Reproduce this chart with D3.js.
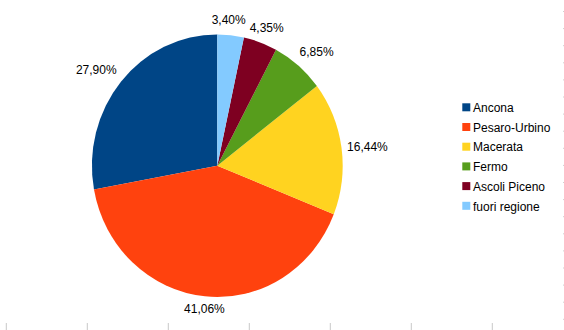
<!DOCTYPE html>
<html>
<head>
<meta charset="utf-8">
<script src="https://cdn.jsdelivr.net/npm/d3@7"></script>
<style>
html,body{margin:0;padding:0;background:#fff;}
svg{display:block;font-family:"Liberation Sans",Arial,sans-serif;}
</style>
</head>
<body>
<svg id="chart" width="564" height="330"></svg>
<script>
const categories = ["Ancona", "Pesaro-Urbino", "Macerata", "Fermo", "Ascoli Piceno", "fuori regione"];
const values = [27.90, 41.06, 16.44, 6.85, 4.35, 3.40];
const colors = ["#004586", "#ff420e", "#ffd320", "#579d1c", "#7e0021", "#83caff"];

const svg = d3.select("#chart");
const cx = 217.3, cy = 165.7, r = 125.4, k = 1.047;

// decorative frame: bottom ticks and right dotted edge
const tickX = d3.scaleLinear().domain([0, 1]).range([6.3, 87.3]);
svg.append("g").selectAll("line").data(d3.range(0, 7)).join("line")
  .attr("x1", d => tickX(d)).attr("x2", d => tickX(d))
  .attr("y1", 323).attr("y2", 330)
  .attr("stroke", "#c8c8c8").attr("stroke-width", 1);
svg.append("line").attr("x1", 563.5).attr("x2", 563.5).attr("y1", 11).attr("y2", 330)
  .attr("stroke", "#d0d0d0").attr("stroke-width", 1).attr("stroke-dasharray", "1,16.1");

const pie = d3.pie().sort(null).startAngle(0).endAngle(-2 * Math.PI).value(d => d);
const arcs = pie(values);
const arc = d3.arc().innerRadius(0).outerRadius(r);

const g = svg.append("g").attr("transform", `translate(${cx},${cy}) scale(1,${k})`);
g.selectAll("path").data(arcs).join("path")
  .attr("d", arc)
  .attr("fill", (d, i) => colors[i]);

const fmtLocale = d3.formatLocale({decimal: ",", thousands: ".", grouping: [3], currency: ["", "€"]});
const fmt = fmtLocale.format(".2f");

const lblG = svg.append("g").attr("font-size", 12).attr("fill", "#000");
const clamp = v => Math.max(0, Math.min(1, v));
const labelData = arcs.map((a, i) => {
  const th = (a.startAngle + a.endAngle) / 2;
  const s = Math.sin(th), c = Math.cos(th);
  const ax = cx + (r + 5.6) * s;
  const ay = cy - (r + 5.6) * c * k;
  return {i, s, c, ax, ay, text: fmt(values[i]) + "%"};
});
const texts = lblG.selectAll("text").data(labelData).join("text")
  .attr("text-anchor", "middle")
  .text(d => d.text);
texts.each(function(d) {
  const w = this.getComputedTextLength();
  d.w = w;
  const tx = clamp((Math.abs(d.s) - 0.3) / 0.4);
  const ty = clamp((Math.abs(d.c) - 0.3) / 0.4);
  d.x = d.ax + Math.sign(d.s) * tx * w / 2;
  d.y = d.ay + 4 + (d.c > 0 ? -9 : 7) * ty;
});
// simple overlap avoidance between neighbouring labels
for (let iter = 0; iter < 5; iter++) {
  for (let a = 0; a < labelData.length; a++) {
    for (let b = a + 1; b < labelData.length; b++) {
      const A = labelData[a], B = labelData[b];
      if (Math.abs(A.y - B.y) < 14) {
        const need = (A.w + B.w) / 2 + 4;
        const dist = Math.abs(A.x - B.x);
        if (dist < need) {
          const push = (need - dist) / 2;
          const dir = A.x < B.x ? -1 : 1;
          A.x += dir * push; B.x -= dir * push;
        }
      }
    }
  }
}
texts.attr("x", d => d.x).attr("y", d => d.y);

// legend
const legend = svg.append("g").attr("transform", "translate(462.3,103.3)");
const rowH = 19.7;
const items = legend.selectAll("g").data(categories).join("g")
  .attr("transform", (d, i) => `translate(0,${i * rowH})`);
items.append("rect").attr("width", 8).attr("height", 8).attr("fill", (d, i) => colors[i]);
items.append("text").attr("x", 10.7).attr("y", 8.7).attr("font-size", 12).attr("fill", "#000").text(d => d);
</script>
</body>
</html>
